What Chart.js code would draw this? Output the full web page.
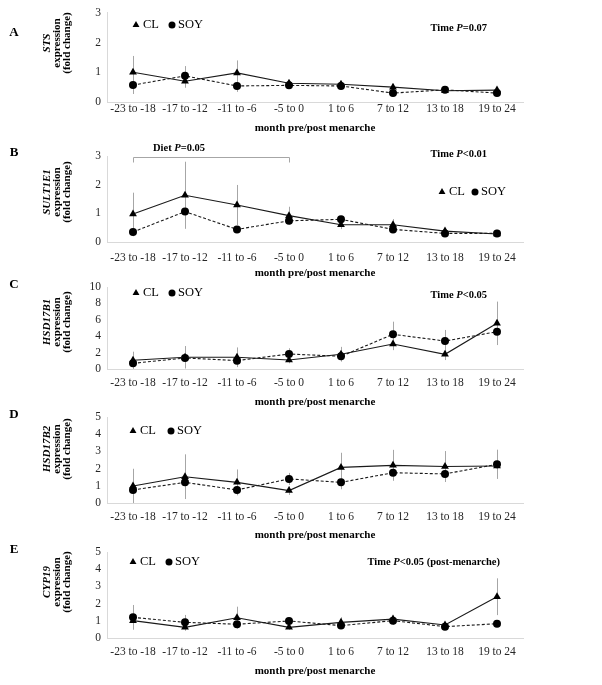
<!DOCTYPE html>
<html>
<head>
<meta charset="utf-8">
<script src="https://cdn.jsdelivr.net/npm/chart.js@4.4.1/dist/chart.umd.min.js"></script>
<style>
  body { margin: 0; background: #fff; }
  #wrap { position: relative; width: 602px; height: 685px; overflow: hidden; background: #fff; }
  #wrap canvas { position: absolute; left: 0; top: 0; }
</style>
</head>
<body>
<div id="wrap"></div>
<script>
// month groups relative to menarche
const categories = ['-23 to -18', '-17 to -12', '-11 to -6', '-5 to 0', '1 to 6', '7 to 12', '13 to 18', '19 to 24'];

// A - STS
const stsCL = [1.0, 0.7, 0.98, 0.63, 0.6, 0.5, 0.38, 0.4];
const stsSOY = [0.57, 0.88, 0.54, 0.56, 0.54, 0.3, 0.41, 0.3];
const stsCLErr = [0.55, 0.22, 0.42, 0.08, 0.08, 0.1, 0.05, 0.05];
const stsSOYErr = [0.3, 0.33, 0.2, 0.06, 0.06, 0.05, 0.05, 0.04];
const stsTicks = [0, 1, 2, 3];

// B - SULT1E1
const sultCL = [0.98, 1.63, 1.29, 0.92, 0.6, 0.6, 0.38, 0.28];
const sultSOY = [0.35, 1.06, 0.44, 0.74, 0.79, 0.44, 0.3, 0.3];
const sultCLErr = [0.74, 1.17, 0.7, 0.31, 0.15, 0.2, 0.08, 0.05];
const sultSOYErr = [0.15, 0.37, 0.1, 0.1, 0.12, 0.1, 0.05, 0.04];
const sultTicks = [0, 1, 2, 3];

// C - HSD17B1
const hsd1CL = [1.06, 1.43, 1.43, 1.1, 1.8, 3.05, 1.79, 5.57];
const hsd1SOY = [0.69, 1.34, 1.02, 1.83, 1.55, 4.23, 3.41, 4.55];
const hsd1CLErr = [1.05, 1.37, 1.2, 0.4, 0.9, 0.75, 0.7, 2.65];
const hsd1SOYErr = [0.3, 0.6, 0.4, 0.7, 0.5, 1.54, 1.35, 1.05];
const hsd1Ticks = [0, 2, 4, 6, 8, 10];

// D - HSD17B2
const hsd2CL = [0.99, 1.53, 1.2, 0.72, 2.07, 2.19, 2.12, 2.15];
const hsd2SOY = [0.76, 1.2, 0.76, 1.4, 1.2, 1.76, 1.69, 2.25];
const hsd2CLErr = [1.0, 1.3, 0.75, 0.25, 0.85, 0.9, 0.9, 0.65];
const hsd2SOYErr = [0.3, 0.5, 0.3, 0.35, 0.4, 0.4, 0.4, 0.85];
const hsd2Ticks = [0, 1, 2, 3, 4, 5];

// E - CYP19
const cypCL = [1.01, 0.62, 1.18, 0.62, 0.91, 1.1, 0.76, 2.4];
const cypSOY = [1.2, 0.91, 0.8, 0.99, 0.72, 1.01, 0.66, 0.83];
const cypCLErr = [0.4, 0.2, 0.64, 0.15, 0.3, 0.2, 0.1, 1.07];
const cypSOYErr = [0.72, 0.43, 0.2, 0.2, 0.15, 0.25, 0.1, 0.1];
const cypTicks = [0, 1, 2, 3, 4, 5];

const FONT = '"Liberation Serif", "Times New Roman", serif';
const W = 602, H = 685;
const PLOT_LEFT = 107, PLOT_RIGHT = 523;

const bold = s => 'bold ' + s + 'px ' + FONT;
const boldItalic = s => 'italic bold ' + s + 'px ' + FONT;

// notes like "Time P=0.07" with italic P
function pNote(prefix, rest) {
    return [
        { text: prefix + ' ', font: bold(10.5) },
        { text: 'P', font: boldItalic(10.5) },
        { text: rest, font: bold(10.5) }
    ];
}

const panels = [
    { letter: 'A', gene: 'STS', cl: stsCL, soy: stsSOY, clErr: stsCLErr, soyErr: stsSOYErr, ticks: stsTicks,
      top: 12, zero: 102, labelY: 109, titleY: 128, letterY: 33, geneY: 43,
      legend: { x: 136, y: 25, gap: 36 }, note: { runs: pNote('Time', '=0.07'), right: 487, y: 28 } },
    { letter: 'B', gene: 'SULT1E1', cl: sultCL, soy: sultSOY, clErr: sultCLErr, soyErr: sultSOYErr, ticks: sultTicks,
      top: 156, zero: 242, labelY: 258, titleY: 273, letterY: 153, geneY: 192,
      legend: { x: 442, y: 192, gap: 33 }, note: { runs: pNote('Time', '<0.01'), right: 487, y: 154 },
      diet: { from: 0, to: 3, y: 157, textX: 153, textY: 148 } },
    { letter: 'C', gene: 'HSD17B1', cl: hsd1CL, soy: hsd1SOY, clErr: hsd1CLErr, soyErr: hsd1SOYErr, ticks: hsd1Ticks,
      top: 287, zero: 369, labelY: 383, titleY: 402, letterY: 285, geneY: 322,
      legend: { x: 136, y: 293, gap: 36 }, note: { runs: pNote('Time', '<0.05'), right: 487, y: 295 } },
    { letter: 'D', gene: 'HSD17B2', cl: hsd2CL, soy: hsd2SOY, clErr: hsd2CLErr, soyErr: hsd2SOYErr, ticks: hsd2Ticks,
      top: 417, zero: 503, labelY: 517, titleY: 535, letterY: 415, geneY: 449,
      legend: { x: 133, y: 431, gap: 38 }, note: null },
    { letter: 'E', gene: 'CYP19', cl: cypCL, soy: cypSOY, clErr: cypCLErr, soyErr: cypSOYErr, ticks: cypTicks,
      top: 552, zero: 638, labelY: 652, titleY: 671, letterY: 550, geneY: 582,
      legend: { x: 133, y: 562, gap: 36 }, note: { runs: pNote('Time', '<0.05 (post-menarche)'), right: 500, y: 562 } }
];

// draw text made of several runs with different fonts
function drawRuns(ctx, runs, x, y, align) {
    let total = 0;
    runs.forEach(r => { ctx.font = r.font; total += ctx.measureText(r.text).width; });
    let cx = x;
    if (align === 'right') cx = x - total;
    else if (align === 'center') cx = x - total / 2;
    ctx.textAlign = 'left';
    ctx.textBaseline = 'middle';
    runs.forEach(r => {
        ctx.font = r.font;
        ctx.fillText(r.text, cx, y);
        cx += ctx.measureText(r.text).width;
    });
}

function drawMarker(ctx, style, x, y, r) {
    ctx.beginPath();
    if (style === 'triangle') {
        let rad = 0;
        ctx.moveTo(x + Math.sin(rad) * r, y - Math.cos(rad) * r);
        rad += Math.PI * 2 / 3;
        ctx.lineTo(x + Math.sin(rad) * r, y - Math.cos(rad) * r);
        rad += Math.PI * 2 / 3;
        ctx.lineTo(x + Math.sin(rad) * r, y - Math.cos(rad) * r);
        ctx.closePath();
    } else {
        ctx.arc(x, y, r, 0, Math.PI * 2);
    }
    ctx.fill();
}

// vertical error bars (gray) behind the lines
const errorBarPlugin = {
    id: 'errorBars',
    beforeDatasetsDraw(chart) {
        const { ctx } = chart;
        const x = chart.scales.x, y = chart.scales.y;
        ctx.save();
        ctx.strokeStyle = '#a6a6a6';
        ctx.lineWidth = 1;
        chart.data.datasets.forEach(ds => {
            ds.errors.forEach((e, i) => {
                const v = ds.data[i];
                const px = Math.round(x.getPixelForValue(i)) + 0.5;
                ctx.beginPath();
                ctx.moveTo(px, y.getPixelForValue(v + e));
                ctx.lineTo(px, y.getPixelForValue(Math.max(0, v - e)));
                ctx.stroke();
            });
        });
        ctx.restore();
    }
};

// letter, y title, legend and notes of one panel
function makeDecor(p) {
    return {
        id: 'decor' + p.letter,
        afterDraw(chart) {
            const { ctx } = chart;
            ctx.save();
            ctx.fillStyle = '#000';

            // panel letter
            ctx.font = bold(13);
            ctx.textAlign = 'center';
            ctx.textBaseline = 'middle';
            ctx.fillText(p.letter, 14, p.letterY);

            // rotated y title, three lines
            const lines = [
                { text: p.gene, font: boldItalic(11), x: 47 },
                { text: 'expression', font: bold(11), x: 57 },
                { text: '(fold change)', font: bold(11), x: 67 }
            ];
            lines.forEach(l => {
                ctx.save();
                ctx.translate(l.x, p.geneY);
                ctx.rotate(-Math.PI / 2);
                ctx.font = l.font;
                ctx.textAlign = 'center';
                ctx.textBaseline = 'middle';
                ctx.fillText(l.text, 0, 0);
                ctx.restore();
            });

            // legend
            const lg = p.legend;
            ctx.fillStyle = '#000';
            drawMarker(ctx, 'triangle', lg.x, lg.y, 4);
            drawMarker(ctx, 'circle', lg.x + lg.gap, lg.y, 3.5);
            ctx.font = '12.5px ' + FONT;
            ctx.textAlign = 'left';
            ctx.textBaseline = 'middle';
            ctx.fillText('CL', lg.x + 7, lg.y);
            ctx.fillText('SOY', lg.x + lg.gap + 6, lg.y);

            // statistics note
            if (p.note) drawRuns(ctx, p.note.runs, p.note.right, p.note.y, 'right');

            // diet bracket (panel B)
            if (p.diet) {
                const xs = chart.scales.x;
                const x1 = Math.round(xs.getPixelForValue(p.diet.from)) + 0.5;
                const x2 = Math.round(xs.getPixelForValue(p.diet.to)) + 0.5;
                const yy = p.diet.y + 0.5;
                ctx.strokeStyle = '#a6a6a6';
                ctx.lineWidth = 1;
                ctx.beginPath();
                ctx.moveTo(x1, yy + 5); ctx.lineTo(x1, yy);
                ctx.lineTo(x2, yy); ctx.lineTo(x2, yy + 5);
                ctx.stroke();
                drawRuns(ctx, pNote('Diet', '=0.05'), p.diet.textX, p.diet.textY, 'left');
            }
            ctx.restore();
        }
    };
}

function buildChart(p) {
    const wrap = document.getElementById('wrap');
    const canvas = document.createElement('canvas');
    canvas.width = W;
    canvas.height = H;
    wrap.appendChild(canvas);

    const tickMin = p.ticks[0];
    const tickMax = p.ticks[p.ticks.length - 1];
    const tickStep = p.ticks[1] - p.ticks[0];

    return new Chart(canvas.getContext('2d'), {
        type: 'line',
        data: {
            labels: categories,
            datasets: [
                {
                    label: 'CL', data: p.cl, errors: p.clErr,
                    borderColor: '#1a1a1a', backgroundColor: '#000', borderWidth: 1.1,
                    pointStyle: 'triangle', pointRadius: 4.5, pointBorderWidth: 0, tension: 0
                },
                {
                    label: 'SOY', data: p.soy, errors: p.soyErr,
                    borderColor: '#1a1a1a', backgroundColor: '#000', borderWidth: 1.1, borderDash: [3, 2],
                    pointStyle: 'circle', pointRadius: 4, pointBorderWidth: 0, tension: 0
                }
            ]
        },
        options: {
            responsive: false,
            animation: false,
            devicePixelRatio: 1,
            layout: {
                padding: { top: p.top, bottom: H - (p.titleY + 6.6), left: 0, right: W - PLOT_RIGHT }
            },
            plugins: {
                legend: { display: false },
                tooltip: { enabled: false }
            },
            scales: {
                x: {
                    type: 'category',
                    offset: true,
                    grid: { display: false, drawTicks: false },
                    border: { display: true, color: '#d9d9d9' },
                    ticks: {
                        font: { family: FONT, size: 11.5 }, color: '#262626',
                        padding: Math.max(0, p.labelY - p.zero - 6.9),
                        maxRotation: 0, autoSkip: false
                    },
                    title: {
                        display: true, text: 'month pre/post menarche', color: '#000',
                        font: { family: FONT, size: 11, weight: 'bold' }, padding: 0
                    },
                    afterFit: s => { s.height = p.titleY + 6.6 - p.zero; }
                },
                y: {
                    min: tickMin, max: tickMax,
                    grid: { display: false, drawTicks: false },
                    border: { display: true, color: '#d9d9d9' },
                    ticks: {
                        stepSize: tickStep, padding: 6, autoSkip: false,
                        font: { family: FONT, size: 11.5 }, color: '#262626'
                    },
                    afterFit: s => { s.width = PLOT_LEFT; }
                }
            }
        },
        plugins: [errorBarPlugin, makeDecor(p)]
    });
}

document.addEventListener('DOMContentLoaded', () => {
    panels.forEach(buildChart);
});
</script>
</body>
</html>
